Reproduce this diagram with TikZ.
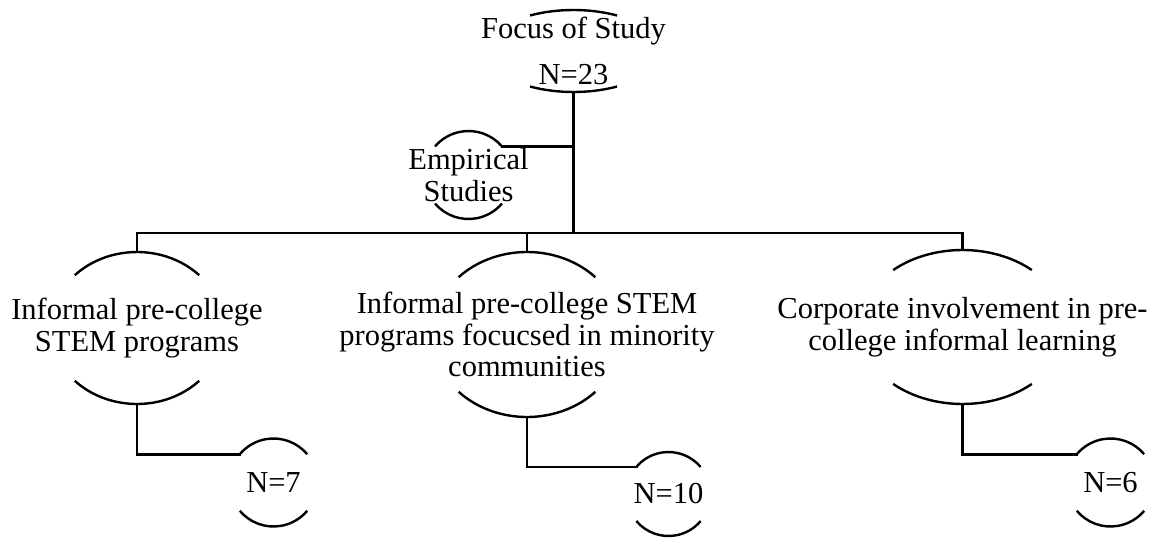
\documentclass[tikz,border=0pt]{standalone}
\usepackage{fontspec}
\setmainfont{Liberation Serif}
\tikzset{
  x=1pt, y=1pt,
  lbl/.style={inner sep=0pt, align=center, font=\fontsize{30.5}{31.5}\selectfont},
  conn/.style={line width=2.8pt, line cap=rect},
  arcline/.style={line width=2.4pt},
}
% #1 node name, #2 x radius, #3 y radius, #4 start angle of the top arc
\newcommand\nodearcs[4]{%
  \draw[arcline] (#1.center) ++(#4:#2pt and #3pt)
     arc[start angle=#4, end angle=180-#4, x radius=#2pt, y radius=#3pt];
  \draw[arcline] (#1.center) ++(180+#4:#2pt and #3pt)
     arc[start angle=180+#4, end angle=360-#4, x radius=#2pt, y radius=#3pt];
  \path (#1.center) ++(180-#4:#2pt and #3pt) coordinate (#1-tl);
  \path (#1.center) ++(#4:#2pt and #3pt) coordinate (#1-tr);
}
\begin{document}
\begin{tikzpicture}
\useasboundingbox (0,0) rectangle (1152,-538);

\node[lbl, minimum height=82pt] (top) at (573.5,-51) {Focus of Study\\[14pt]N=23};
\node[lbl, minimum height=88pt] (emp) at (468.5,-175) {Empirical\\Studies};
\node[lbl, minimum height=152pt] (a) at (137,-328) {Informal pre-college\\STEM programs};
\node[lbl, minimum height=165pt] (b) at (527,-334.5) {Informal pre-college STEM\\programs focucsed in minority\\communities};
\node[lbl, minimum height=154pt] (c) at (962.5,-327) {Corporate involvement in pre-\\college informal learning};
\node[lbl, minimum height=88pt] (n7) at (273.5,-482.5) {N=7};
\node[lbl, minimum height=84pt] (n10) at (668.5,-494) {N=10};
\node[lbl, minimum height=88pt] (n6) at (1110.5,-482.5) {N=6};

\nodearcs{top}{87}{41}{60}
\nodearcs{emp}{44}{44}{40.4}
\nodearcs{a}{86.5}{76}{44}
\nodearcs{b}{95}{82.5}{44}
\nodearcs{c}{103}{77}{47.7}
\nodearcs{n7}{44}{44}{40}
\nodearcs{n10}{42}{42}{40}
\nodearcs{n6}{44}{44}{40}

\coordinate (bus) at (573,-233);
\draw[conn] (top.south) -- (top.south |- bus);
\draw[conn] (emp-tr) -- (emp-tr -| top.south);
\draw[conn] (a.north) |- (c.north |- bus) -- (c.north);
\draw[conn] (b.north) -- (b.north |- bus);
\draw[conn] (a.south) |- (n7-tl);
\draw[conn] (b.south) |- (n10-tl);
\draw[conn] (c.south) |- (n6-tl);
\end{tikzpicture}
\end{document}
